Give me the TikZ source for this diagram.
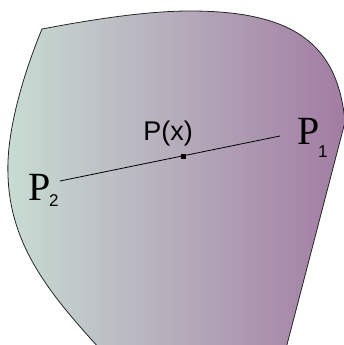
\documentclass[tikz,border=0pt]{standalone}
\usepackage{fontspec}
\setmainfont{Liberation Serif}
\setsansfont{Liberation Sans}
\definecolor{leftc}{RGB}{200,221,211}
\definecolor{rightc}{RGB}{162,124,163}
\begin{document}
\begin{tikzpicture}[x=1pt,y=-1pt,
  lbl/.style={inner sep=0pt, anchor=base west},
  bigP/.style={lbl, font=\fontsize{40}{40}\selectfont},
  subnum/.style={lbl, font=\sffamily\fontsize{17}{17}\selectfont},
  midlbl/.style={inner sep=0pt, anchor=base, font=\sffamily\fontsize{27}{27}\selectfont},
  ptmark/.style={fill=black, minimum size=5pt, inner sep=0pt, draw=none, rectangle},
  region/.style={left color=leftc, right color=rightc, draw=black!85, line width=0.8pt},
  seg/.style={draw=black, line width=0.8pt}]
\useasboundingbox (0,0) rectangle (344,345);
\begin{scope}
\clip (0,0) rectangle (344,345);
\shade[region] (42,29) .. controls (100,18) and (150,11) .. (190,11)
  .. controls (295,11) and (338,45) .. (345,122)
  -- (283,360) -- (110,360)
  .. controls (55,300) and (10,250) .. (8,175)
  .. controls (6,130) and (25,70) .. (42,29) -- cycle;
\end{scope}
\coordinate (p2) at (60,181);
\coordinate (p1) at (280,136);
\draw[seg] (p2) -- (p1);
\node[ptmark] (px) at (183,156) {};
\node[midlbl] (pxl) at (168,140) {P(x)};
\node[bigP] (P1) at (297,144) {P};
\node[subnum] (s1) at (318,157) {1};
\node[bigP] (P2) at (28,200) {P};
\node[subnum] (s2) at (49,206) {2};
\end{tikzpicture}
\end{document}
